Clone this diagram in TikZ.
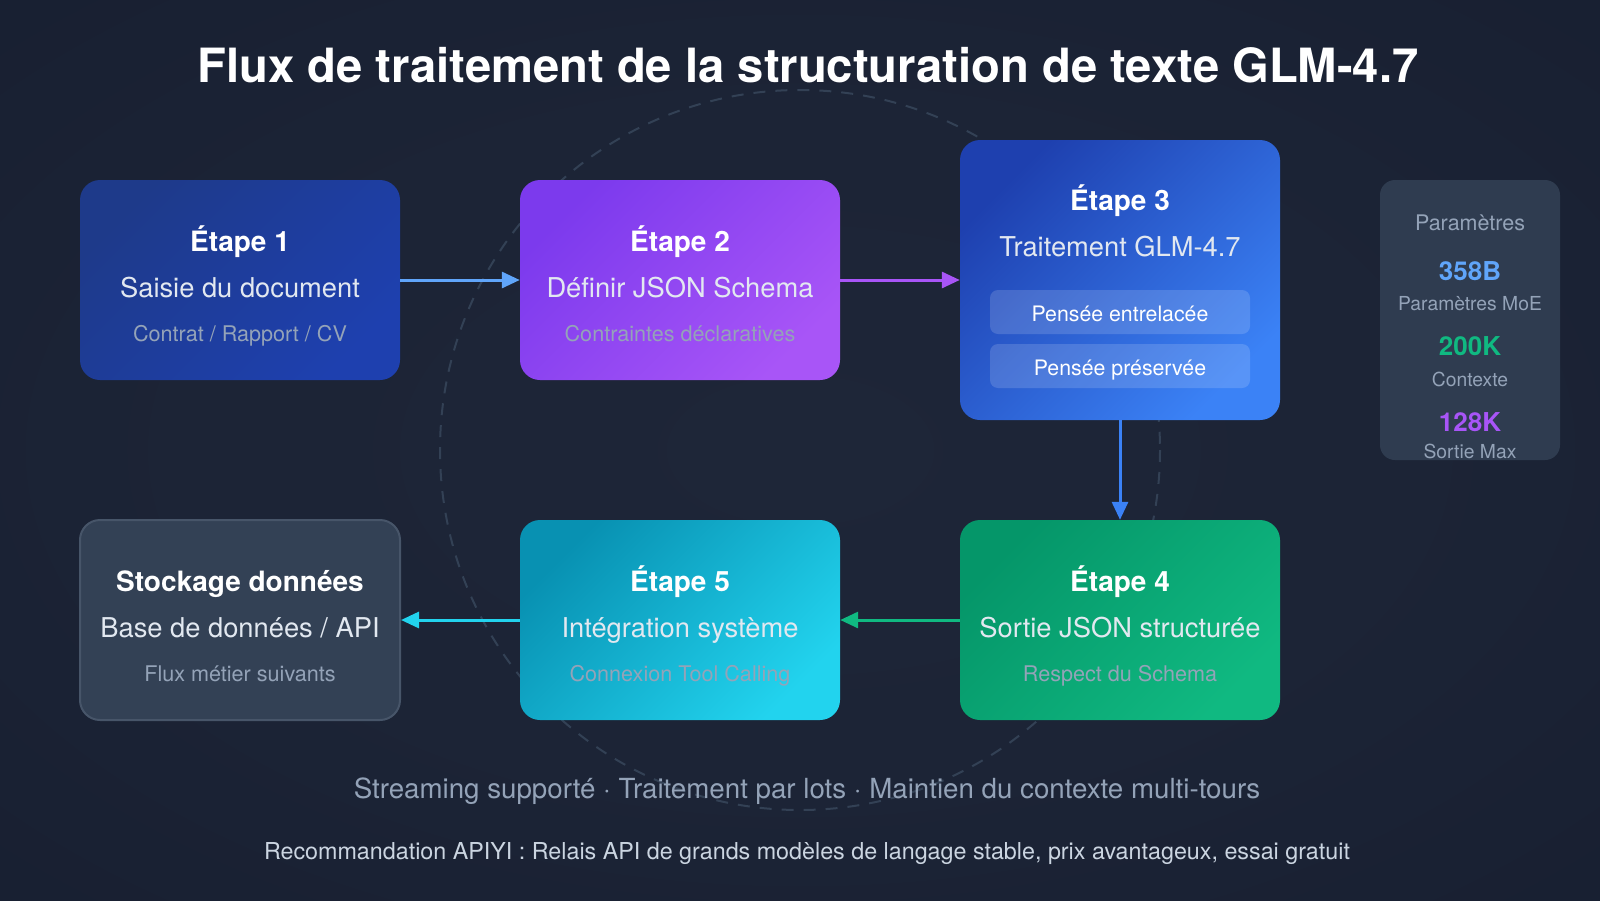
\documentclass[tikz,border=0pt]{standalone}
\usepackage{fontspec}
\setmainfont{TeX Gyre Heros}
\usetikzlibrary{arrows.meta}

\definecolor{bgin}{HTML}{1E2638}
\definecolor{bgout}{HTML}{0F1628}
\definecolor{ringcol}{HTML}{334155}
\definecolor{subtxt}{HTML}{E2E8F0}
\definecolor{notetxt}{HTML}{94A3B8}
\definecolor{slatebox}{HTML}{334155}
\definecolor{slateline}{HTML}{475569}
\definecolor{blueA}{HTML}{1E3A8A}
\definecolor{blueB}{HTML}{1E40AF}
\definecolor{violetA}{HTML}{7C3AED}
\definecolor{violetB}{HTML}{A855F7}
\definecolor{glmA}{HTML}{1E40AF}
\definecolor{glmB}{HTML}{3B82F6}
\definecolor{greenA}{HTML}{059669}
\definecolor{greenB}{HTML}{10B981}
\definecolor{cyanA}{HTML}{0891B2}
\definecolor{cyanB}{HTML}{22D3EE}
\definecolor{lightblue}{HTML}{60A5FA}
\definecolor{footlight}{HTML}{CBD5E1}

\pgfdeclareradialshading{bgglow}{\pgfpoint{0bp}{0bp}}{color(0bp)=(bgin); color(20bp)=(bgin!85!bgout); color(72bp)=(bgout)}

\newcommand{\pxsize}[1]{\fontsize{#1}{#1}\selectfont}

\begin{document}
\begin{tikzpicture}[x=1pt,y=-1pt]
\tikzstyle{stage}=[rounded corners=20pt,minimum width=320pt,minimum height=200pt,inner sep=0pt]
\tikzstyle{head}=[anchor=base,inner sep=0pt,text=white,font=\pxsize{28}\bfseries]
\tikzstyle{sub}=[anchor=base,inner sep=0pt,text=subtxt,font=\pxsize{27.3}]
\tikzstyle{note}=[anchor=base,inner sep=0pt,text=notetxt,font=\pxsize{21.6}]
\tikzstyle{pill}=[rounded corners=8pt,fill=white,fill opacity=0.15,text opacity=1,text=white,
  minimum width=260pt,minimum height=44pt,inner sep=0pt,text height=18pt,text depth=0pt,font=\pxsize{21.3}]
\tikzstyle{flow}=[line width=3pt,-{Triangle[length=18pt,width=16pt]}]
\tikzstyle{ring}=[draw=ringcol,line width=2pt,dash pattern=on 12pt off 10pt]
\tikzstyle{statlbl}=[anchor=base,inner sep=0pt,text=notetxt,font=\pxsize{21.5}]
\tikzstyle{statnum}=[anchor=base,inner sep=0pt,font=\pxsize{26}\bfseries]
\tikzstyle{statsub}=[anchor=base,inner sep=0pt,text=notetxt,font=\pxsize{19.3}]
\def \radius {360}

\useasboundingbox (0,0) rectangle (1600,900);
\shade[shading=bgglow] (0,0) rectangle (1600,900);
\draw[ring] (800,450) circle[radius=\radius];

% title
\node[anchor=base,inner sep=0pt,text=white,font=\pxsize{47.2}\bfseries] (title) at (808,82)
  {Flux de traitement de la structuration de texte GLM-4.7};

% stages
\node[stage,top color=blueA,bottom color=blueB,shading angle=45] (e1) at (240,280) {};
\node[stage,top color=violetA,bottom color=violetB,shading angle=45] (e2) at (680,280) {};
\node[stage,minimum height=280pt,top color=glmA,bottom color=glmB,shading angle=45] (e3) at (1120,280) {};
\node[stage,top color=greenA,bottom color=greenB,shading angle=45] (e4) at (1120,620) {};
\node[stage,top color=cyanA,bottom color=cyanB,shading angle=45] (e5) at (680,620) {};
\node[stage,fill=slatebox,draw=slateline,line width=2pt] (store) at (240,620) {};

\node[head] (h1) at (240,251) {Étape 1};
\node[sub]  (s1) at (240,297) {Saisie du document};
\node[note] (n1) at (240,341) {Contrat / Rapport / CV};

\node[head] (h2) at (680,251) {Étape 2};
\node[sub]  (s2) at (680,297) {Définir JSON Schema};
\node[note] (n2) at (680,341) {Contraintes déclaratives};

\node[head] (h3) at (1120,210) {Étape 3};
\node[sub]  (s3) at (1120,256) {Traitement GLM-4.7};
\node[pill] (p1) at (1120,312) {Pensée entrelacée};
\node[pill] (p2) at (1120,366) {Pensée préservée};

\node[head] (h4) at (1120,591) {Étape 4};
\node[sub]  (s4) at (1120,637) {Sortie JSON structurée};
\node[note] (n4) at (1120,681) {Respect du Schema};

\node[head] (h5) at (680,591) {Étape 5};
\node[sub]  (s5) at (680,637) {Intégration système};
\node[note] (n5) at (680,681) {Connexion Tool Calling};

\node[head] (h6) at (240,591) {Stockage données};
\node[sub]  (s6) at (240,637) {Base de données / API};
\node[note] (n6) at (240,681) {Flux métier suivants};

% flow between stages
\draw[flow,lightblue] (e1.east) -- (e2.west);
\draw[flow,violetB] (e2.east) -- (e3.west |- e2.east);
\draw[flow,glmB] (e3.south) -- (e4.north);
\draw[flow,greenB] (e4.west) -- (e5.east);
\draw[flow,cyanB] (e5.west) -- (store.east);

% parameters panel
\node[rounded corners=15pt,fill=slatebox,fill opacity=0.85,minimum width=180pt,minimum height=280pt,inner sep=0pt] (stats) at (1470,320) {};
\node[statlbl] (k0) at (1470,230) {Paramètres};
\node[statnum,text=lightblue] (k1) at (1470,280) {358B};
\node[statsub] (k1s) at (1470,310) {Paramètres MoE};
\node[statnum,text=greenB] (k2) at (1470,355) {200K};
\node[statsub] (k2s) at (1470,386) {Contexte};
\node[statnum,text=violetB] (k3) at (1470,431) {128K};
\node[statsub] (k3s) at (1470,458) {Sortie Max};

% footer
\node[anchor=base,inner sep=0pt,text=notetxt,font=\pxsize{27.7}] (f1) at (807,798)
  {Streaming supporté · Traitement par lots · Maintien du contexte multi-tours};
\node[anchor=base,inner sep=0pt,text=footlight,font=\pxsize{23.3}] (f2) at (807,859)
  {Recommandation APIYI : Relais API de grands modèles de langage stable, prix avantageux, essai gratuit};
\end{tikzpicture}
\end{document}
